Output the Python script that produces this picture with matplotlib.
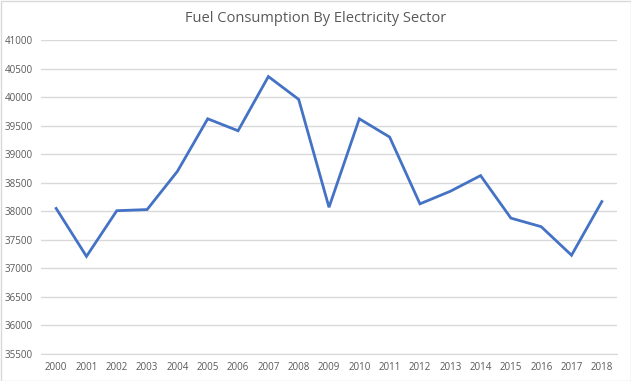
import matplotlib
matplotlib.use("Agg")
import matplotlib.pyplot as plt
from matplotlib.patches import Rectangle

years = [str(y) for y in range(2000, 2019)]
consumption = [38050, 37210, 38010, 38030, 38700, 39620, 39410, 40360, 39960,
               38070, 39620, 39300, 38130, 38350, 38625, 37880, 37730, 37230, 38170]
yticks = list(range(35500, 41001, 500))

fig = plt.figure(figsize=(6.31, 3.81), dpi=100)
plt.rcParams['font.family'] = ['Open Sans', 'DejaVu Sans']
ax = fig.add_axes([41/631, 1-354/381, (617-41)/631, (354-40)/381])

x = list(range(len(years)))
ax.plot(x, consumption, color='#4472C4', linewidth=2.0, solid_joinstyle='miter')
ax.set_xlim(-0.5, len(years)-0.5)
ax.set_ylim(35500, 41000)
ax.set_yticks(yticks)
ax.set_yticklabels([str(v) for v in yticks], fontsize=7, color='#595959')
ax.set_xticks(x)
ax.set_xticklabels(years, fontsize=7, color='#595959')
ax.tick_params(length=0, pad=6)
ax.grid(axis='y', color='#D9D9D9', linewidth=1.0)
ax.set_axisbelow(True)
for s in ['top', 'right', 'left']:
    ax.spines[s].set_visible(False)
ax.spines['bottom'].set_color('#D9D9D9')

fig.text(0.5, 1-18/381, 'Fuel Consumption By Electricity Sector', ha='center', va='center',
         fontsize=10.5, color='#595959')
fig.patches.append(Rectangle((0.5/631, 0.5/381), 1-1/631, 1-1/381, transform=fig.transFigure,
                             fill=False, edgecolor='#D9D9D9', linewidth=1.0))
fig.savefig('out.png', dpi=100)
